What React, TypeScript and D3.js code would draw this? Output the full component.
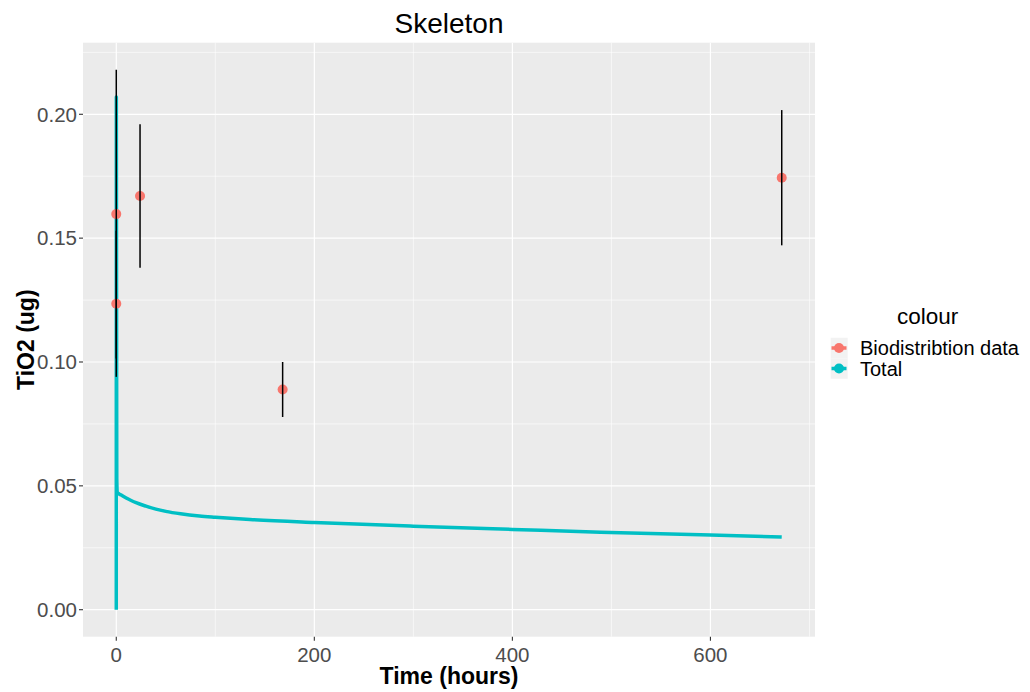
import React from "react";
import * as d3 from "d3";

const obsTime = [0, 0, 24, 168, 672];
const obsValue = [0.1597, 0.1235, 0.167, 0.0889, 0.1744];
const obsSd = [0.0583, 0.0295, 0.029, 0.0111, 0.0273];

const totalTime = [0, 0.05, 0.5, 1, 2, 5, 10, 15, 20, 30, 40, 50, 65, 84, 100, 135, 200, 300, 400, 489, 600, 672];
const totalValue = [0, 0.207, 0.053, 0.0475, 0.047, 0.0463, 0.0451, 0.0441, 0.0432, 0.0418, 0.0406, 0.0397, 0.0387, 0.0378, 0.0373, 0.0364, 0.0352, 0.0337, 0.0324, 0.0313, 0.0302, 0.0293];

const xTicks = [0, 200, 400, 600];
const xMinor = [100, 300, 500, 700];
const yTicks = [0, 0.05, 0.1, 0.15, 0.2];
const yMinor = [0.025, 0.075, 0.125, 0.175, 0.225];

const legendLabels = ["Biodistribtion data", "Total"];
const RED = "#F8766D";
const TEAL = "#00BFC4";

export default function App() {
  const W = 1030, H = 692;
  const left = 83, right = 815, top = 42.7, bottom = 636.7;
  const x = d3.scaleLinear().domain([-33.6, 705.6]).range([left, right]);
  const y = d3.scaleLinear().domain([-0.0109, 0.2289]).range([bottom, top]);
  const line = d3.line<number>().x((_, i) => x(totalTime[i])).y((d) => y(d)).curve(d3.curveMonotoneX);
  const font = "'Liberation Sans', Arial, sans-serif";

  return (
    <svg width={W} height={H} style={{ position: "absolute", left: 0, top: 0, background: "#fff" }} fontFamily={font}>
      <rect x={left} y={top} width={right - left} height={bottom - top} fill="#EBEBEB" />
      {xMinor.filter((v) => x(v) < right).map((v) => (
        <line key={"xm" + v} x1={x(v)} x2={x(v)} y1={top} y2={bottom} stroke="#fff" strokeWidth={0.6} />
      ))}
      {yMinor.map((v) => (
        <line key={"ym" + v} x1={left} x2={right} y1={y(v)} y2={y(v)} stroke="#fff" strokeWidth={0.6} />
      ))}
      {xTicks.map((v) => (
        <line key={"xg" + v} x1={x(v)} x2={x(v)} y1={top} y2={bottom} stroke="#fff" strokeWidth={1.2} />
      ))}
      {yTicks.map((v) => (
        <line key={"yg" + v} x1={left} x2={right} y1={y(v)} y2={y(v)} stroke="#fff" strokeWidth={1.2} />
      ))}

      <path d={line(totalValue) || ""} fill="none" stroke={TEAL} strokeWidth={3.5} strokeLinejoin="round" />

      {obsTime.map((t, i) => (
        <circle key={"p" + i} cx={x(t)} cy={y(obsValue[i])} r={5} fill={RED} />
      ))}
      {obsTime.map((t, i) => (
        <line key={"e" + i} x1={x(t)} x2={x(t)} y1={y(obsValue[i] - obsSd[i])} y2={y(obsValue[i] + obsSd[i])} stroke="#000" strokeWidth={1.5} />
      ))}

      {xTicks.map((v) => (
        <g key={"xt" + v}>
          <line x1={x(v)} x2={x(v)} y1={bottom} y2={bottom + 4} stroke="#333" strokeWidth={1.1} />
          <text x={x(v)} y={bottom + 25} textAnchor="middle" fontSize={20.5} fill="#4D4D4D">{d3.format("d")(v)}</text>
        </g>
      ))}
      {yTicks.map((v) => (
        <g key={"yt" + v}>
          <line x1={left - 4} x2={left} y1={y(v)} y2={y(v)} stroke="#333" strokeWidth={1.1} />
          <text x={left - 6} y={y(v) + 7.3} textAnchor="end" fontSize={20.5} fill="#4D4D4D">{d3.format(".2f")(v)}</text>
        </g>
      ))}

      <text x={(left + right) / 2} y={684} textAnchor="middle" fontSize={23} fontWeight="bold" fill="#000">Time (hours)</text>
      <text transform={`translate(34,${(top + bottom) / 2}) rotate(-90)`} textAnchor="middle" fontSize={23} fontWeight="bold" fill="#000">TiO2 (ug)</text>
      <text x={(left + right) / 2} y={33} textAnchor="middle" fontSize={28} fill="#000">Skeleton</text>

      <text x={897} y={324} fontSize={22.5} fill="#000">colour</text>
      {legendLabels.map((lab, i) => {
        const cy = 348 + i * 20.5;
        const col = i === 0 ? RED : TEAL;
        return (
          <g key={"lg" + i}>
            <rect x={830.7} y={cy - 10.25} width={17} height={20.5} fill="#F2F2F2" />
            <line x1={831.5} x2={846.5} y1={cy} y2={cy} stroke={col} strokeWidth={3.5} />
            <circle cx={839} cy={cy} r={5} fill={col} />
            <text x={860} y={cy + 7.2} fontSize={20} fill="#000">{lab}</text>
          </g>
        );
      })}
    </svg>
  );
}
